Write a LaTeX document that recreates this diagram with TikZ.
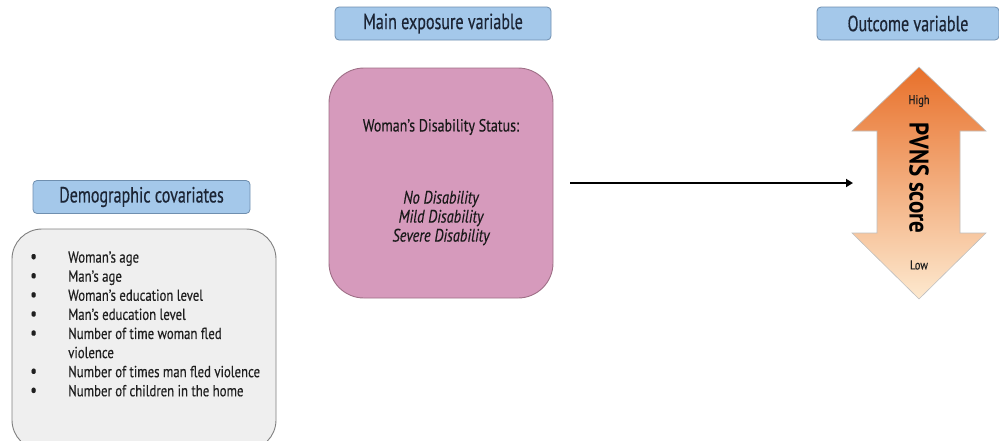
\documentclass[tikz,border=0pt]{standalone}
\usepackage{fontspec}
\setmainfont{PT Sans}[FakeStretch=0.8]
\newfontfamily\lblfont{PT Sans}[FakeStretch=0.73,FakeBold=0.4]
\newfontfamily\bodyfont{PT Sans}[FakeStretch=0.8,FakeBold=0.3]
\newfontfamily\pvnsfont{PT Sans}[FakeStretch=0.85]
\usetikzlibrary{arrows.meta}
\definecolor{lblfill}{HTML}{A4C8EA}
\definecolor{lbldraw}{HTML}{6F8FAF}
\definecolor{grayfill}{HTML}{EFEFEF}
\definecolor{graydraw}{HTML}{7F7F7F}
\definecolor{pinkfill}{HTML}{D69ABC}
\definecolor{pinkdraw}{HTML}{9E6F86}
\definecolor{orangetop}{HTML}{E8702A}
\definecolor{orangebot}{HTML}{FDE9CF}
\definecolor{txt}{HTML}{1C2535}
\newcommand{\bul}{{\fontsize{19}{19}\selectfont\textbullet}}
\tikzset{
  lbl/.style={draw=lbldraw, fill=lblfill, rounded corners=4pt, line width=0.8pt, inner sep=0pt, font=\lblfont\fontsize{22}{24}\selectfont, text=txt},
  bigbox/.style={line width=0.9pt},
  body/.style={font=\bodyfont\fontsize{16}{19.1}\selectfont, text=black!88},
}
\begin{document}
\begin{tikzpicture}[x=1pt,y=-1pt]
\useasboundingbox (0,0) rectangle (999,440);
% label boxes
\node[lbl, minimum width=217pt, minimum height=33pt] (demolbl) at (141.5,197) {Demographic covariates};
\node[lbl, minimum width=216pt, minimum height=33pt] (explbl) at (443,23.5) {Main exposure variable};
\node[lbl, minimum width=182pt, minimum height=33pt] (outlbl) at (908,23.5) {Outcome variable};
% demographic box
\draw[bigbox, draw=graydraw, fill=grayfill, rounded corners=30pt] (12,229) rectangle (276,450);
\node[body, anchor=north west, inner sep=0pt, align=left] (demolist) at (30,249) {%
\begin{tabular}{@{}p{38pt}@{}l@{}}
\bul & Woman’s age\\
\bul & Man’s age\\
\bul & Woman’s education level\\
\bul & Man’s education level\\
\bul & Number of time woman fled\\
 & violence\\
\bul & Number of times man fled violence\\
\bul & Number of children in the home
\end{tabular}};
% exposure box
\node[bigbox, draw=pinkdraw, fill=pinkfill, rounded corners=35pt, minimum width=224pt, minimum height=230pt] (expbox) at (441,183) {};
\node[body, font=\bodyfont\fontsize{17.5}{19}\selectfont, text=black!90] (status) at (441,127) {Woman’s Disability Status:};
\node[body, text=black!90, align=center, font=\bodyfont\fontsize{18}{19}\selectfont\itshape] (levels) at (441,218) {No Disability\\Mild Disability\\Severe Disability};
% outcome arrow
\draw[draw=black!25, line width=0.6pt, top color=orangetop, bottom color=orangebot]
  (919,67) -- (986,131) -- (960,131) -- (960,233) -- (986,233) -- (919,299)
  -- (852,233) -- (877,233) -- (877,131) -- (852,131) -- cycle;
\coordinate (outleft) at (853,183);
\node[body, font=\bodyfont\fontsize{13}{15}\selectfont] (high) at (919,101) {High};
\node[body, font=\bodyfont\fontsize{13}{15}\selectfont] (low) at (919,265) {Low};
\node[rotate=-90, font=\pvnsfont\fontsize{27}{29}\selectfont\bfseries, text=black] (pvns) at (919,178) {PVNS score};
% connector
\coordinate (arrstart) at (570,183);
\draw[line width=2.8pt, -{Triangle[length=7pt,width=8pt]}] (arrstart) -- (outleft);
\end{tikzpicture}
\end{document}
